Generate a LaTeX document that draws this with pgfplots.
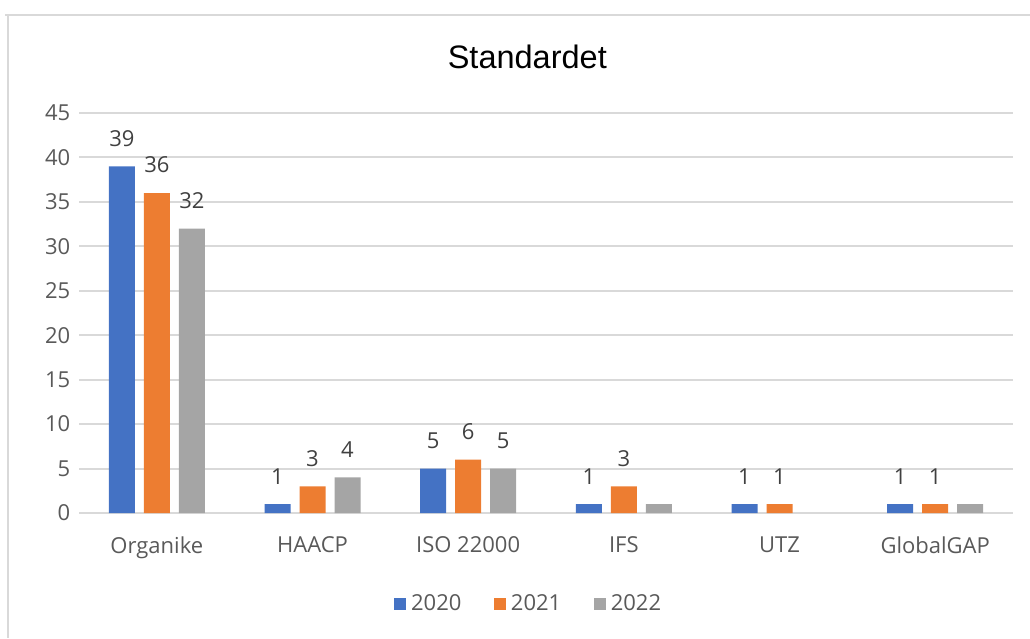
\documentclass[border=0pt]{standalone}
\usepackage{fontspec}
\setmainfont{Open Sans}
\newfontfamily\titlefont{Liberation Sans}
\usepackage{pgfplots}
\pgfplotsset{compat=1.18}

\definecolor{c2020}{HTML}{4472C4}
\definecolor{c2021}{HTML}{ED7D31}
\definecolor{c2022}{HTML}{A5A5A5}
\definecolor{gridc}{HTML}{D9D9D9}
\definecolor{txt}{HTML}{595959}
\definecolor{lbl}{HTML}{404040}

\begin{document}
\begin{tikzpicture}
% frame of the chart area (1 px = 0.4pt)
\path[use as bounding box] (0,0) rectangle (412pt,255.2pt);
\draw[gridc, line width=0.8pt] (2pt,249.2pt) -- (412pt,249.2pt);
\draw[gridc, line width=0.8pt] (3.2pt,249.2pt) -- (3.2pt,0pt);
\begin{axis}[
    at={(31.6pt,50pt)}, anchor=south west,
    scale only axis,
    width=373.6pt, height=160pt,
    ybar, bar width=10.4pt,
    xmin=-0.5, xmax=5.5,
    ymin=0, ymax=45,
    ytick={0,5,...,45},
    xtick=data,
    xticklabels={Organike, HAACP, ISO 22000, IFS, UTZ, GlobalGAP},
    major tick length=0pt,
    axis x line*=bottom,
    axis y line*=left,
    y axis line style={draw=none},
    x axis line style={draw=gridc, line width=0.8pt},
    ymajorgrids,
    major grid style={draw=gridc, line width=0.8pt},
    tick label style={font=\fontsize{8.8}{10}\selectfont, text=txt},
    /pgf/number format/assume math mode=true,
    xticklabel style={yshift=-6pt},
    title={\titlefont\fontsize{13}{15}\selectfont Standardet},
    title style={at={(0.48,1.1025)}, anchor=center, text=black},
    nodes near coords,
    point meta=explicit symbolic,
    every node near coord/.append style={font=\fontsize{8.8}{10}\selectfont, text=lbl, yshift=4.4pt},
    legend columns=3,
    legend style={at={(0.483,-0.2275)}, anchor=center, draw=none,
        font=\fontsize{8.8}{10}\selectfont, text=txt,
        /tikz/every even column/.append style={column sep=11pt}},
    legend image code/.code={\path[#1, draw=none] (0pt,-2.4pt) rectangle (4.8pt,2.4pt);},
]
\addplot[fill=c2020, draw=none, bar shift=-14pt] coordinates {
    (0,39) [39] (1,1) [1] (2,5) [5] (3,1) [1] (4,1) [1] (5,1) [1]
};
\addplot[fill=c2021, draw=none, bar shift=0pt] coordinates {
    (0,36) [36] (1,3) [3] (2,6) [6] (3,3) [3] (4,1) [1] (5,1) [1]
};
\addplot[fill=c2022, draw=none, bar shift=14pt] coordinates {
    (0,32) [32] (1,4) [4] (2,5) [5] (3,1) [] (5,1) []
};
\legend{2020, 2021, 2022}
\end{axis}
\end{tikzpicture}
\end{document}
